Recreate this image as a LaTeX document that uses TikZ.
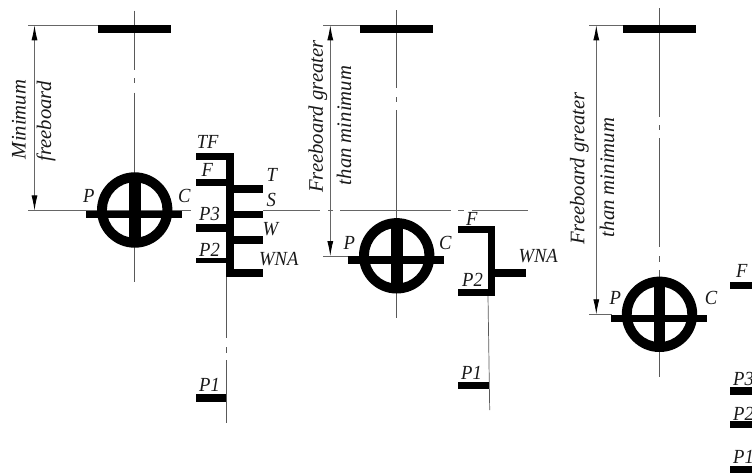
\documentclass[tikz,border=0pt]{standalone}
\usepackage{fontspec}
\setmainfont{Liberation Serif}
\newfontfamily\labfont{Liberation Serif}[FakeStretch=0.93]
\usetikzlibrary{arrows.meta}
\tikzset{
 x=1pt,y=-1pt,
 thin line/.style={draw=black!60,line width=0.8pt},
 center line/.style={draw=black!65,line width=0.7pt},
 lab/.style={anchor=base west,inner sep=0pt,font=\fontsize{20}{22}\labfont\itshape,text=black!90},
 rotlab/.style={rotate=90,inner sep=0pt,anchor=center,font=\fontsize{20.7}{22}\selectfont\itshape,text=black!90},
 dim/.style={draw=black!60,line width=0.8pt,{Latex[length=15pt,width=6pt,black]}-{Latex[length=15pt,width=6pt,black]}},
}
\newcommand{\hull}[2]{% cx, cy
 \fill[black,even odd rule] (#1,#2) circle[radius=37.7pt] (#1,#2) circle[radius=27.8pt];
 \fill[black] (#1-5.8,#2-30) rectangle (#1+5.8,#2+30);
 \fill[black] (#1-48.5,#2+0.6) rectangle (#1+47.5,#2+7.7);
}
\begin{document}
\begin{tikzpicture}
\useasboundingbox (0,0) rectangle (752,472);
% ---- figure 1
\draw[center line] (134.7,10.7) -- (134.7,70) (134.7,78) -- (134.7,83) (134.7,92.7) -- (134.7,282);
\draw[thin line] (28,25.3) -- (98,25.3);
\draw[thin line] (28,210.4) -- (191,210.4);
\draw[dim] (34.5,25.3) -- (34.5,210.4);
\hull{134.7}{210}
\fill[black] (98,25.3) rectangle (171,33.3);
\draw[center line] (226,276) -- (226,338) (226,347) -- (226,353) (226,360) -- (226,422.7);
\fill[black] (195.7,152.7) rectangle (233.7,160.4);
\fill[black] (225.7,152.7) rectangle (233.7,276.7);
\fill[black] (195.7,179.3) rectangle (226,186.3);
\fill[black] (195.7,223.5) rectangle (226,231.5);
\fill[black] (195.7,258.3) rectangle (226,262.9);
\fill[black] (233,185) rectangle (263.3,192.5);
\fill[black] (233,210.5) rectangle (263.3,217.8);
\fill[black] (233,236.2) rectangle (263.3,243.5);
\fill[black] (225.7,269.4) rectangle (263.3,276.7);
\fill[black] (195.7,394.3) rectangle (226,401.7);
\node[lab] (tf1) at (196.7,148.3) {TF};
\node[lab] (f1) at (201.5,176.7) {F};
\node[lab] (t1) at (266.5,181.7) {T};
\node[lab] (s1) at (266.5,206.7) {S};
\node[lab] (p31) at (199,220) {P3};
\node[lab] (w1) at (262.5,235) {W};
\node[lab] (p21) at (199,256) {P2};
\node[lab] (wna1) at (259,265) {WNA};
\node[lab] (p11) at (199,391.5) {P1};
\node[lab] (pa) at (83,202) {P};
\node[lab] (ca) at (178,202) {C};
\node[rotlab] (m1) at (19,119.5) {Minimum};
\node[rotlab] (m2) at (46,121.5) {freeboard};
% ---- figure 2
\draw[thin line] (263,210.6) -- (320,210.6) (328,210.6) -- (333,210.6) (340,210.6) -- (450.7,210.6) (458,210.6) -- (464,210.6) (472,210.6) -- (528,210.6);
\draw[center line] (396.7,10) -- (396.7,88) (396.7,97) -- (396.7,102) (396.7,110) -- (396.7,318);
\draw[thin line] (323.3,25.3) -- (360,25.3);
\draw[thin line] (323.3,256) -- (350,256);
\draw[dim] (330.3,25.3) -- (330.3,256);
\hull{396.7}{255.8}
\fill[black] (360,25.3) rectangle (433.3,33.3);
\draw[center line] (488,296) -- (489.7,410);
\fill[black] (457.5,225.7) rectangle (495,233.2);
\fill[black] (487.7,225.7) rectangle (495,296.3);
\fill[black] (457.5,289) rectangle (495,296.3);
\fill[black] (495,269.2) rectangle (525.7,276.7);
\fill[black] (458.3,382) rectangle (489,389.3);
\node[lab] (f2) at (466,225) {F};
\node[lab] (wna2) at (518.3,262.5) {WNA};
\node[lab] (p22) at (462,286.7) {P2};
\node[lab] (p12) at (461,379.3) {P1};
\node[lab] (pb) at (343.3,249.3) {P};
\node[lab] (cb) at (439,249.3) {C};
\node[rotlab] (g1) at (318,116.5) {Freeboard greater};
\node[rotlab] (g2) at (344,125.5) {than minimum};
% ---- figure 3
\draw[center line] (659.3,8) -- (659.3,116.7) (659.3,125) -- (659.3,130) (659.3,138.3) -- (659.3,246.7) (659.3,256) -- (659.3,261.7) (659.3,270) -- (659.3,377);
\draw[thin line] (589.3,25.3) -- (622.7,25.3);
\draw[thin line] (589.3,314.3) -- (612,314.3);
\draw[dim] (596.3,25.3) -- (596.3,314.3);
\hull{659.5}{314.3}
\fill[black] (622.7,25.3) rectangle (696.3,33.3);
\fill[black] (730,281.7) rectangle (752,289);
\fill[black] (730,387.3) rectangle (752,395.3);
\fill[black] (730,420.7) rectangle (752,428);
\fill[black] (730,466) rectangle (752,473);
\node[lab] (f3) at (736,277.3) {F};
\node[lab] (p33) at (733,385) {P3};
\node[lab] (p23) at (733,420) {P2};
\node[lab] (p13) at (733,463) {P1};
\node[lab] (pc) at (609.3,304) {P};
\node[lab] (cc) at (704.7,304) {C};
\node[rotlab] (h1) at (579.5,168.5) {Freeboard greater};
\node[rotlab] (h2) at (607,177.5) {than minimum};
\end{tikzpicture}
\end{document}
